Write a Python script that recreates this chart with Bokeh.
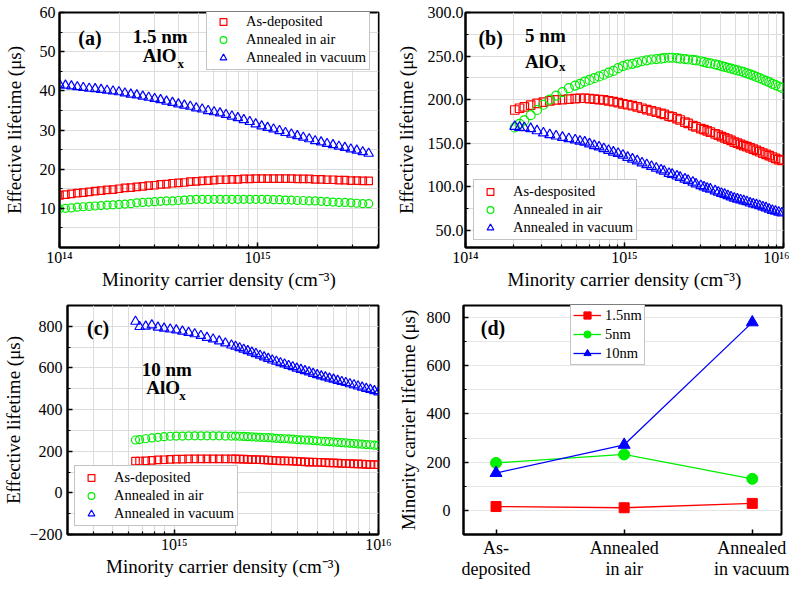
from bokeh.plotting import figure
from bokeh.models import (FixedTicker, CustomJSTickFormatter, Label,
                          PrintfTickFormatter)
from bokeh.layouts import column, row
from bokeh.embed import file_html
from bokeh.resources import INLINE

FONT = "Liberation Serif"
RED, GREEN, BLUE = "#ff0000", "#00ee00", "#0000ff"

# ---------------- data ----------------
series_names = ["As-deposited", "Annealed in air", "Annealed in vacuum"]
x_title = "Minority carrier density (cm\u207b\u00b3)"

# panel (a): 1.5 nm AlOx ; x = log10(minority carrier density / cm^-3)
a_log_n = [14.00, 14.03, 14.06, 14.09, 14.12, 14.15, 14.18, 14.21, 14.24, 14.27,
           14.30, 14.33, 14.36, 14.39, 14.42, 14.45, 14.48, 14.51, 14.54, 14.57,
           14.60, 14.63, 14.66, 14.69, 14.72, 14.75, 14.78, 14.81, 14.84, 14.87,
           14.90, 14.93, 14.96, 14.99, 15.02, 15.05, 15.08, 15.11, 15.14, 15.17,
           15.20, 15.23, 15.26, 15.29, 15.32, 15.35, 15.38, 15.41, 15.44, 15.47,
           15.50, 15.53, 15.56]
a_as_dep = [13.3, 13.5, 13.7, 13.9, 14.0, 14.2, 14.4, 14.5, 14.7, 14.8,
            15.0, 15.2, 15.3, 15.5, 15.6, 15.8, 15.9, 16.1, 16.2, 16.4,
            16.5, 16.6, 16.8, 16.9, 17.0, 17.1, 17.2, 17.3, 17.3, 17.4,
            17.4, 17.5, 17.5, 17.6, 17.6, 17.6, 17.6, 17.6, 17.6, 17.6,
            17.5, 17.5, 17.5, 17.4, 17.4, 17.3, 17.3, 17.2, 17.2, 17.1,
            17.1, 17.0, 17.0]
a_air = [9.9, 10.0, 10.1, 10.3, 10.4, 10.5, 10.6, 10.7, 10.8, 10.9,
         11.0, 11.1, 11.2, 11.4, 11.5, 11.6, 11.7, 11.8, 11.9, 11.9,
         12.0, 12.1, 12.2, 12.3, 12.3, 12.3, 12.3, 12.3, 12.3, 12.3,
         12.3, 12.3, 12.3, 12.3, 12.3, 12.3, 12.2, 12.2, 12.1, 12.1,
         12.0, 12.0, 11.9, 11.9, 11.8, 11.7, 11.6, 11.5, 11.5, 11.4,
         11.3, 11.2, 11.2]
a_vacuum = [41.6, 41.4, 41.2, 41.0, 40.8, 40.6, 40.5, 40.3, 40.1, 39.9,
            39.7, 39.4, 39.1, 38.9, 38.6, 38.3, 38.0, 37.7, 37.3, 37.0,
            36.6, 36.3, 36.0, 35.6, 35.3, 34.9, 34.6, 34.3, 33.9, 33.5,
            33.1, 32.6, 32.1, 31.5, 31.0, 30.6, 30.2, 29.8, 29.3, 28.9,
            28.5, 28.1, 27.7, 27.2, 26.9, 26.5, 26.2, 25.8, 25.5, 25.1,
            24.8, 24.4, 24.0]

# panel (b): 5 nm AlOx
b_log_n = [14.31, 14.34, 14.37, 14.41, 14.45, 14.49, 14.53, 14.57, 14.61, 14.65,
           14.69, 14.72, 14.75, 14.78, 14.81, 14.84, 14.87, 14.90, 14.93, 14.96,
           14.99, 15.02, 15.05, 15.08, 15.11, 15.14, 15.17, 15.20, 15.23, 15.25,
           15.28, 15.30, 15.33, 15.35, 15.38, 15.40, 15.43, 15.45, 15.48, 15.50,
           15.52, 15.54, 15.57, 15.59, 15.61, 15.63, 15.65, 15.67, 15.69, 15.71,
           15.73, 15.75, 15.77, 15.79, 15.81, 15.83, 15.85, 15.87, 15.89, 15.91,
           15.93, 15.95, 15.97, 15.99]
b_as_dep = [188, 190, 191.5, 193.5, 195.5, 197, 198.5, 199.5, 200, 200.5,
            201, 201.5, 201.5, 201, 200.5, 200, 199.5, 198.5, 197.5, 196.5,
            195, 194, 193, 191.5, 190, 188.5, 187, 185.5, 184, 183,
            181, 180, 178, 176.5, 174, 172.5, 170, 168.5, 166.5, 165.5,
            164, 162.5, 160.5, 159, 157.5, 156, 154.5, 153, 151, 150,
            148.5, 147, 146, 144.5, 143, 141.5, 140, 138.5, 137, 135.5,
            134, 132.5, 131, 130]
b_air = [168, 172, 176, 182, 188, 194, 200, 204.5, 208.5, 213,
         216, 218, 220.5, 222.5, 224.5, 226.5, 228.5, 231, 233, 236,
         238.5, 240, 241, 242.5, 244, 245, 246, 246.5, 247, 247.5,
         248, 248, 247.5, 247, 246.5, 246, 245.5, 245, 244, 243,
         242, 241.5, 240.5, 239.5, 238.5, 237.5, 236.5, 235.5, 234.5, 233.5,
         232.5, 231.5, 230, 229, 227.5, 226, 224.5, 223, 221.5, 220,
         218, 216.5, 215, 213.5]
b_vacuum = [169, 168, 167.5, 166.5, 164, 161.5, 159.5, 158, 156.5, 155,
            153.5, 152, 151, 149, 147, 145.5, 143.5, 141.5, 139.5, 138,
            136, 133.5, 131.5, 129.5, 127, 125, 123, 121, 119, 117.5,
            115, 114, 112, 110.5, 108.5, 107, 105, 103, 101, 99.5,
            98, 97, 95, 93.5, 92, 91, 89.5, 88, 86.5, 85.5,
            84.5, 83.5, 82.5, 81, 80, 79, 78, 76.5, 75.5, 74,
            72.5, 71.5, 70.5, 69.5]

# panel (c): 10 nm AlOx
c_log_n = [14.81, 14.83, 14.86, 14.89, 14.92, 14.95, 14.98, 15.01, 15.04, 15.07,
           15.10, 15.13, 15.16, 15.19, 15.22, 15.25, 15.28, 15.30, 15.32, 15.34,
           15.36, 15.38, 15.40, 15.42, 15.44, 15.46, 15.48, 15.50, 15.52, 15.54,
           15.56, 15.58, 15.60, 15.62, 15.64, 15.66, 15.68, 15.70, 15.72, 15.74,
           15.76, 15.78, 15.80, 15.82, 15.84, 15.86, 15.88, 15.90, 15.92, 15.94,
           15.96, 15.98, 16.00]
c_as_dep = [152, 153, 154, 156, 158, 159, 161, 162, 162, 163,
            163, 163, 163, 163, 163, 163, 163, 163, 162, 162,
            161, 160, 160, 159, 158, 157, 156, 155, 154, 154,
            153, 152, 151, 150, 149, 148, 148, 147, 146, 145,
            144, 144, 143, 142, 141, 140, 139, 139, 138, 137,
            136, 136, 135]
c_air = [254, 256, 260, 264, 267, 270, 272, 273, 273, 274,
         274, 274, 274, 274, 274, 273, 273, 273, 272, 271,
         270, 269, 268, 267, 266, 265, 264, 262, 261, 260,
         259, 258, 256, 255, 254, 253, 251, 250, 248, 247,
         246, 244, 243, 241, 240, 238, 237, 235, 234, 232,
         231, 229, 228]
c_vacuum = [823, 798, 800, 806, 795, 790, 786, 782, 776, 770,
            763, 755, 746, 738, 729, 719, 709, 703, 696, 689,
            682, 675, 668, 660, 652, 645, 637, 631, 624, 618,
            611, 605, 598, 592, 586, 580, 573, 567, 561, 556,
            550, 545, 539, 534, 529, 523, 518, 512, 507, 501,
            496, 490, 484]

# panel (d): minority carrier lifetime per treatment
d_categories = ["As-\ndeposited", "Annealed\nin air", "Annealed\nin vacuum"]
d_thickness = ["1.5nm", "5nm", "10nm"]
d_15nm = [16, 11, 29]
d_5nm = [197, 232, 131]
d_10nm = [155, 272, 780]

# ---------------- helpers ----------------
SUP = CustomJSTickFormatter(code="""
const s = {'0':'\u2070','1':'\u00b9','2':'\u00b2','3':'\u00b3','4':'\u2074',
           '5':'\u2075','6':'\u2076','7':'\u2077','8':'\u2078','9':'\u2079','-':'\u207b'};
const e = Math.round(Math.log10(tick));
return '10' + String(e).split('').map(c => s[c]).join('');
""")

MINOR_DEC = [k * 10.0 ** d for d in (14, 15) for k in range(2, 10)]


def style(p):
    p.outline_line_color = "black"
    p.outline_line_width = 2
    p.outline_line_alpha = 1
    p.background_fill_color = "white"
    p.border_fill_color = "white"
    for ax in p.axis:
        ax.axis_line_width = 2
        ax.axis_line_color = "black"
        ax.major_tick_in = 5
        ax.major_tick_out = 0
        ax.minor_tick_in = 3
        ax.minor_tick_out = 0
        ax.major_tick_line_width = 1.5
        ax.minor_tick_line_width = 1.2
        ax.major_label_text_font = FONT
        ax.major_label_text_font_size = "16px"
        ax.major_label_text_color = "black"
        ax.axis_label_text_font = FONT
        ax.axis_label_text_font_size = "19px"
        ax.axis_label_text_font_style = "normal"
        ax.axis_label_text_color = "black"
    for g in p.grid:
        g.grid_line_color = "#dcdcdc"
        g.grid_line_width = 1
        g.minor_grid_line_color = "#dcdcdc"
        g.minor_grid_line_width = 1


def style_log_x(p, ticks):
    p.xaxis.ticker = FixedTicker(ticks=ticks, minor_ticks=MINOR_DEC)
    p.xaxis.formatter = SUP
    p.xaxis.major_label_standoff = 1
    p.xaxis.axis_label = x_title
    p.xaxis.axis_label_standoff = 0


def style_legend(p, loc, glyph_w=26, glyph_h=17, standoff=10, pad=3):
    lg = p.legend[0]
    lg.location = loc
    lg.margin = 0
    lg.padding = pad
    lg.spacing = 1
    lg.glyph_width = glyph_w
    lg.glyph_height = glyph_h
    lg.label_height = glyph_h
    lg.label_standoff = standoff
    lg.label_text_font = FONT
    lg.label_text_font_size = "14.5px"
    lg.label_text_color = "black"
    lg.border_line_color = "#8a8a8a"
    lg.border_line_width = 1
    lg.background_fill_color = "white"
    lg.background_fill_alpha = 1


def text(p, x, y, s, size="19px"):
    p.add_layout(Label(x=x, y=y, text=s, text_font=FONT, text_font_size=size,
                       text_font_style="bold", text_align="left",
                       text_baseline="middle", text_color="black"))


def open_markers(p, xs, ys_list, sizes, names):
    markers = ["square", "circle", "triangle"]
    colors = [RED, GREEN, BLUE]
    for ys, mk, col, sz, name in zip(ys_list, markers, colors, sizes, names):
        p.scatter(xs, ys, marker=mk, size=sz, fill_color=None, line_color=col,
                  line_width=1.2, legend_label=name)


# ---------------- panel (a) ----------------
pa = figure(width=392, height=292, x_axis_type="log", x_range=(1e14, 4.07e15),
            y_range=(0, 60), output_backend="svg", toolbar_location=None,
            min_border_left=56, min_border_right=14, min_border_top=12,
            min_border_bottom=43)
xa = [10 ** e for e in a_log_n]
open_markers(pa, xa, [a_as_dep, a_air, a_vacuum], [7.5, 8, 9.5], series_names)
style(pa)
style_log_x(pa, [1e14, 1e15])
pa.yaxis.ticker = FixedTicker(ticks=[10, 20, 30, 40, 50, 60],
                              minor_ticks=[5, 15, 25, 35, 45, 55])
pa.yaxis.axis_label = "Effective lifetime (\u03bcs)"
pa.yaxis.major_label_standoff = 4
pa.yaxis.axis_label_standoff = 12
style_legend(pa, (147, 177))
text(pa, 1.245e14, 53.4, "(a)", size="20px")
text(pa, 2.34e14, 54.0, "1.5 nm")
text(pa, 2.63e14, 49.0, "AlO")
text(pa, 3.94e14, 46.9, "x", size="13px")

# ---------------- panel (b) ----------------
pb = figure(width=397, height=292, x_axis_type="log", x_range=(1e14, 1e16),
            y_range=(30, 300), output_backend="svg", toolbar_location=None,
            min_border_left=70, min_border_right=6, min_border_top=12,
            min_border_bottom=43)
xb = [10 ** e for e in b_log_n]
open_markers(pb, xb, [b_as_dep, b_air, b_vacuum], [8.5, 9, 10],
             ["As-desposited", "Annealed in air", "Annealed in vacuum"])
style(pb)
style_log_x(pb, [1e14, 1e15, 1e16])
pb.yaxis.ticker = FixedTicker(ticks=[50, 100, 150, 200, 250, 300],
                              minor_ticks=[75, 125, 175, 225, 275])
pb.yaxis.formatter = PrintfTickFormatter(format="%.1f")
pb.yaxis.axis_label = "Effective lifetime (\u03bcs)"
pb.yaxis.major_label_standoff = 2
pb.yaxis.axis_label_standoff = 8
style_legend(pb, (8, 7))
text(pb, 1.206e14, 270.5, "(b)", size="20px")
text(pb, 2.37e14, 273.3, "5 nm")
text(pb, 2.37e14, 243.2, "AlO")
text(pb, 3.87e14, 237.5, "x", size="13px")

# ---------------- panel (c) ----------------
pc = figure(width=392, height=289, x_axis_type="log", x_range=(3e14, 1e16),
            y_range=(-200, 900), output_backend="svg", toolbar_location=None,
            min_border_left=57, min_border_right=14, min_border_top=13,
            min_border_bottom=41)
xc = [10 ** e for e in c_log_n]
open_markers(pc, xc, [c_as_dep, c_air, c_vacuum], [7.5, 8, 9.5], series_names)
style(pc)
style_log_x(pc, [1e15, 1e16])
pc.yaxis.ticker = FixedTicker(ticks=[-200, 0, 200, 400, 600, 800],
                              minor_ticks=[-100, 100, 300, 500, 700])
pc.yaxis.axis_label = "Effective lifetime (\u03bcs)"
pc.yaxis.major_label_standoff = 5
pc.yaxis.axis_label_standoff = 2
style_legend(pc, (7, 8))
text(pc, 3.74e14, 792, "(c)", size="20px")
text(pc, 6.92e14, 594, "10 nm")
text(pc, 7.30e14, 508, "AlO")
text(pc, 1.059e15, 466, "x", size="13px")

# ---------------- panel (d) ----------------
pd = figure(width=397, height=289, x_range=(-0.254, 2.228), y_range=(-100, 850),
            output_backend="svg", toolbar_location=None,
            min_border_left=71, min_border_right=8, min_border_top=13,
            min_border_bottom=41)
xd = list(range(len(d_categories)))
for ys, mk, col, sz, name in zip([d_15nm, d_5nm, d_10nm],
                                 ["square", "circle", "triangle"],
                                 [RED, GREEN, BLUE], [10, 11, 12], d_thickness):
    pd.line(xd, ys, line_color=col, line_width=1.3, legend_label=name)
    pd.scatter(xd, ys, marker=mk, size=sz, fill_color=col, line_color=col,
               legend_label=name)
style(pd)
pd.xgrid.grid_line_color = None
pd.xgrid.minor_grid_line_color = None
pd.ygrid.grid_line_color = "#e6e6e6"
pd.ygrid.minor_grid_line_color = "#e6e6e6"
pd.xaxis.ticker = FixedTicker(ticks=xd)
pd.xaxis.minor_tick_in = 0
pd.xaxis.major_label_overrides = {i: c for i, c in zip(xd, d_categories)}
pd.xaxis.major_label_text_font_size = "18px"
pd.xaxis.major_label_text_line_height = 1.05
pd.xaxis.major_label_standoff = 3
pd.yaxis.ticker = FixedTicker(ticks=[0, 200, 400, 600, 800],
                              minor_ticks=[100, 300, 500, 700])
pd.yaxis.axis_label = "Minority carrier lifetime (\u03bcs)"
pd.yaxis.major_label_standoff = 13
pd.yaxis.axis_label_standoff = 5
style_legend(pd, (107, 169), glyph_w=28, glyph_h=18, standoff=4, pad=2)
text(pd, -0.119, 757, "(d)", size="20px")

layout = column(row(pa, pb), row(pc, pd))
open("out.html", "w").write(file_html(layout, INLINE))
